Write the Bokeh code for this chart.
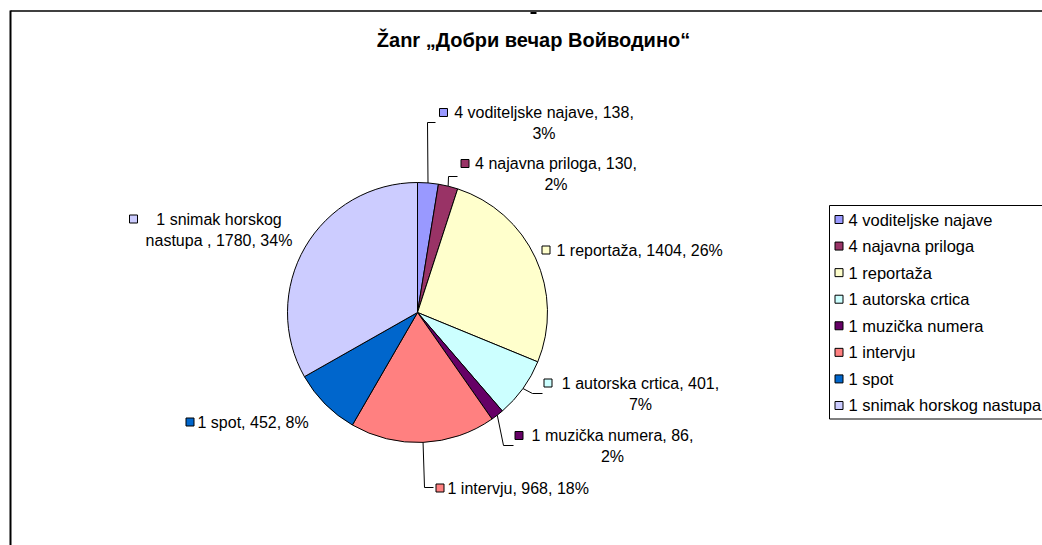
import math
from bokeh.plotting import figure
from bokeh.models import Range1d
from bokeh.core.properties import value
from bokeh.embed import file_html
from bokeh.resources import INLINE

# ---------------- data ----------------
title_text = "Žanr „Добри вечар Войводино“"
categories = ["4 voditeljske najave", "4 najavna priloga", "1 reportaža",
              "1 autorska crtica", "1 muzička numera", "1 intervju",
              "1 spot", "1 snimak horskog nastupa"]
values = [138, 130, 1404, 401, 86, 968, 452, 1780]
percent_labels = ["3%", "2%", "26%", "7%", "2%", "18%", "8%", "34%"]
colors = ["#9999FF", "#993366", "#FFFFCC", "#CCFFFF",
          "#660066", "#FF8080", "#0066CC", "#CCCCFF"]

# ---------------- layout (screen px) ----------------
W, H = 1042, 545
OFF = 0
FONT = value("Liberation Sans")


def X(sx):
    return sx - OFF


def Y(sy):
    return (H + OFF) - sy


p = figure(width=W, height=H, output_backend="svg", toolbar_location=None,
           x_range=Range1d(0, W), y_range=Range1d(0, H), min_border=0,
           background_fill_color="white", border_fill_color="white")
p.axis.visible = False
p.grid.visible = False
p.outline_line_color = None

# frame lines
p.line([X(10), X(10)], [Y(10), Y(600)], line_color="black", line_width=2)
p.line([X(10), X(1100)], [Y(10.5), Y(10.5)], line_color="black", line_width=1.5)
p.line([X(530), X(536)], [Y(12.5), Y(12.5)], line_color="black", line_width=2)

# title
p.text(x=[X(533)], y=[Y(39)], text=[title_text], text_font=FONT,
       text_font_size="20px", text_font_style="bold", text_align="center",
       text_baseline="middle", text_color="black")

# pie
CX, CY, R = 417, 312, 130
total = sum(values)
starts, ends, mids = [], [], []
cum = 0
for v in values:
    a0 = math.pi / 2 - 2 * math.pi * cum / total
    cum += v
    a1 = math.pi / 2 - 2 * math.pi * cum / total
    starts.append(a0)
    ends.append(a1)
    mids.append((a0 + a1) / 2)

p.wedge(x=[X(CX)] * len(values), y=[Y(CY)] * len(values), radius=R,
        start_angle=starts, end_angle=ends, direction="clock",
        fill_color=colors, line_color="black", line_width=1)

# data labels: (marker x, first line y, text x / centre x, words on first line or None, leader elbow)
label_layout = [
    (443, 112, 543.5, 4, [(427, 122), (435, 122)]),
    (464.5, 163, 555.5, 4, [(448, 176), (457, 176)]),
    (545.5, 249.5, 556, None, None),
    (547.5, 382.5, 640, 4, [(532, 393), (542, 393)]),
    (518.5, 435, 612, 4, [(503, 445), (513, 445)]),
    (439.5, 487.5, 447, None, [(424, 487), (433, 487)]),
    (189.5, 421.5, 197, None, None),
    (133, 218.5, 218.5, 3, None),
]
LINE_GAP = 21

for i, (mx, my, tx, nfirst, leader) in enumerate(label_layout):
    cat = categories[i].strip()
    if i == len(categories) - 1:
        full = f"{cat} , {values[i]}, {percent_labels[i]}"
    else:
        full = f"{cat}, {values[i]}, {percent_labels[i]}"
    p.scatter(x=[X(mx)], y=[Y(my)], marker="square", size=8,
              fill_color=colors[i], line_color="black", line_width=1)
    if nfirst is None:
        p.text(x=[X(tx)], y=[Y(my)], text=[full], text_font=FONT,
               text_font_size="16px", text_align="left",
               text_baseline="middle", text_color="black")
    else:
        words = full.split(" ")
        l1 = " ".join(words[:nfirst])
        l2 = " ".join(words[nfirst:])
        p.text(x=[X(tx), X(tx)], y=[Y(my), Y(my + LINE_GAP)], text=[l1, l2],
               text_font=FONT, text_font_size="16px", text_align="center",
               text_baseline="middle", text_color="black")
    if leader is not None:
        ax = CX + R * math.cos(mids[i])
        ay = CY - R * math.sin(mids[i])
        xs = [X(ax)] + [X(pt[0]) for pt in leader]
        ys = [Y(ay)] + [Y(pt[1]) for pt in leader]
        p.line(xs, ys, line_color="black", line_width=1)

# legend
LEG_L, LEG_T, LEG_B = 829, 205, 418.5
p.quad(left=[X(LEG_L)], right=[X(1100)], top=[Y(LEG_T)], bottom=[Y(LEG_B)],
       fill_color="white", line_color="black", line_width=1)
ROW0, ROW_STEP = 219, 26.57
for i, cat in enumerate(categories):
    ry = ROW0 + i * ROW_STEP
    p.scatter(x=[X(838.5)], y=[Y(ry)], marker="square", size=8,
              fill_color=colors[i], line_color="black", line_width=1)
    p.text(x=[X(848)], y=[Y(ry)], text=[cat], text_font=FONT,
           text_font_size="16.5px", text_align="left", text_baseline="middle",
           text_color="black")

open("out.html", "w").write(file_html(p, INLINE))
